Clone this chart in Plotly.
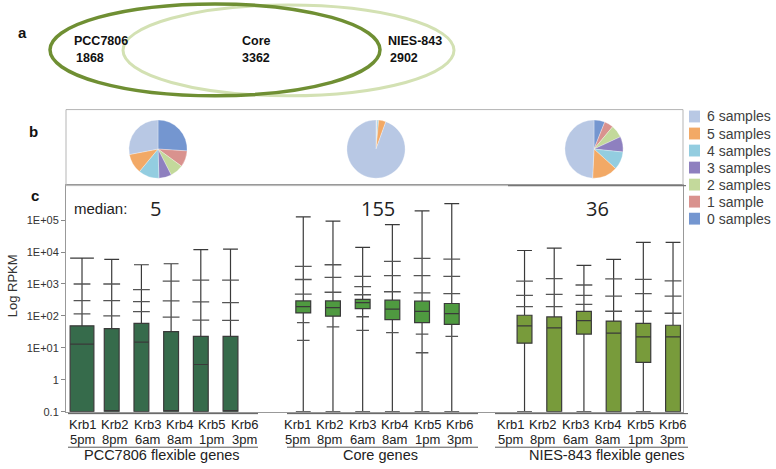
import plotly.graph_objects as go

W, H = 776, 469

# ---------------- data ----------------
venn_names = ["PCC7806", "Core", "NIES-843"]
venn_counts = [1868, 3362, 2902]

pie_labels = ["6 samples", "5 samples", "4 samples", "3 samples", "2 samples", "1 sample", "0 samples"]
pie_pcc = [28, 11, 11.5, 7, 7.5, 9, 26]
pie_core = [94.5, 4.0, 0.8, 0.2, 0.1, 0.1, 0.3]
pie_nies = [49, 14, 10, 8.5, 7, 5, 6]

samples = ["Krb1", "Krb2", "Krb3", "Krb4", "Krb5", "Krb6"]
times = ["5pm", "8pm", "6am", "8am", "1pm", "3pm"]
groups = ["PCC7806 flexible genes", "Core genes", "NIES-843 flexible genes"]
group_medians = [5, 155, 36]

pcc_upper = [6500, 5900, 4000, 4300, 12000, 12300]
pcc_q3 = [49, 40, 58, 32, 23, 23]
pcc_med = [13, 0.1, 15, 0.1, 3, 0.1]
pcc_q1 = [0.1, 0.1, 0.1, 0.1, 0.1, 0.1]
pcc_lower = [0.1, 0.1, 0.1, 0.1, 0.1, 0.1]
pcc_hi = [[1000, 300, 115], [1000, 300, 100], [670, 280, 137], [1230, 295, 92], [1320, 275, 74], [1320, 260, 72]]
pcc_lo = [[], [], [], [], [], []]

core_upper = [126000, 93000, 14000, 72000, 195000, 330000]
core_q3 = [295, 295, 330, 310, 290, 245]
core_med = [196, 183, 260, 163, 138, 118]
core_q1 = [124, 98, 170, 76, 62, 54]
core_lower = [0.1, 0.1, 0.1, 0.1, 0.1, 0.1]
core_hi = [[3550, 1380, 480], [4000, 1620, 550], [1740, 830, 460], [5100, 1830, 570], [6300, 1830, 525], [6000, 1740, 500]]
core_lo = [[62, 17], [45], [94, 35], [30], [27, 7], [23]]

nies_upper = [11200, 13200, 3800, 5900, 20000, 20000]
nies_q3 = [105, 93, 138, 69, 58, 51]
nies_med = [49, 42, 71, 29, 22, 22]
nies_q1 = [14, 0.1, 27, 0.1, 3.5, 0.1]
nies_lower = [0.1, 0.1, 0.1, 0.1, 0.1, 0.1]
nies_hi = [[1230, 440, 195], [1480, 470, 195], [930, 440, 230], [1450, 415, 140], [1400, 500, 140], [1260, 415, 121]]
nies_lo = [[], [], [], [], [], []]

ytick_vals = [0.1, 1, 10, 100, 1000, 10000, 100000]
ytick_text = ["0.1", "1", "1E+01", "1E+02", "1E+03", "1E+04", "1E+05"]

# ---------------- styles ----------------
pie_colors = ["#B8C8E4", "#F2A966", "#93CDE0", "#8E80BF", "#C3D99B", "#D9928E", "#7496D0"]
box_colors = ["#366B4B", "#4F9A40", "#789B3B"]
FONT = "Liberation Sans"


def PX(x):
    return x / W


def PY(y):
    return 1 - y / H


def note(x, y, text, size, family=FONT, color="#222", anchor="center", **kw):
    return dict(x=PX(x), y=PY(y), xref="paper", yref="paper", text=text, showarrow=False,
                xanchor=anchor, yanchor="middle", font=dict(family=family, size=size, color=color), **kw)


fig = go.Figure()

# ---------------- boxes (panel c) ----------------
GROUP_STEP = 7.45
group_sets = [
    (pcc_upper, pcc_q3, pcc_med, pcc_q1, pcc_lower, pcc_hi, pcc_lo),
    (core_upper, core_q3, core_med, core_q1, core_lower, core_hi, core_lo),
    (nies_upper, nies_q3, nies_med, nies_q1, nies_lower, nies_hi, nies_lo),
]
for g, (up, q3, med, q1, lo, hi, lom) in enumerate(group_sets):
    for i in range(6):
        xpos = g * GROUP_STEP + i
        bw = 0.8 if (g == 0 and i == 0) else 0.5
        fig.add_trace(go.Box(
            x=[xpos], q1=[q1[i]], median=[med[i]], q3=[q3[i]],
            lowerfence=[lo[i]], upperfence=[up[i]],
            width=bw, whiskerwidth=1, boxpoints=False,
            fillcolor=box_colors[g], line=dict(color="#3a3a3a", width=1.2),
            showlegend=False, hoverinfo="skip", name=f"{groups[g]} {samples[i]}"))
        fig.add_trace(go.Scatter(
            x=[xpos] * len(hi[i]), y=hi[i], mode="markers",
            marker=dict(symbol="line-ew", size=12, line=dict(width=1.3, color="#555")),
            showlegend=False, hoverinfo="skip"))
        if lom[i]:
            fig.add_trace(go.Scatter(
                x=[xpos] * len(lom[i]), y=lom[i], mode="markers",
                marker=dict(symbol="line-ew", size=9, line=dict(width=1.3, color="#555")),
                showlegend=False, hoverinfo="skip"))

# ---------------- pies (panel b) ----------------
PIE_D = 59
for cx, vals in zip([158, 376, 594], [pie_pcc, pie_core, pie_nies]):
    fig.add_trace(go.Pie(
        labels=pie_labels[::-1], values=vals[::-1], sort=False, direction="clockwise",
        rotation=0, textinfo="none", hoverinfo="label+percent",
        marker=dict(colors=pie_colors[::-1], line=dict(color="white", width=0.3)),
        domain=dict(x=[PX(cx - PIE_D / 2), PX(cx + PIE_D / 2)],
                    y=[PY(151 + PIE_D / 2), PY(151 - PIE_D / 2)]),
        showlegend=False))

shapes = []
annotations = []

# ---------------- venn (panel a) ----------------
shapes.append(dict(type="circle", xref="paper", yref="paper",
                   x0=PX(123), x1=PX(454), y0=PY(97), y1=PY(5),
                   line=dict(color="#D3E1B3", width=3)))
shapes.append(dict(type="circle", xref="paper", yref="paper",
                   x0=PX(50), x1=PX(380), y0=PY(97), y1=PY(4),
                   line=dict(color="#6F8F33", width=3.5)))
venn_pos = [(72, "left"), (256, "center"), (386, "left")]
for (vx, anc), name, cnt in zip(venn_pos, venn_names, venn_counts):
    annotations.append(note(vx, 42, f"<b>{name}</b>", 12.5, FONT, "#111", anc))
    annotations.append(note(vx + (2 if anc == "left" else 0), 59, f"<b>{cnt}</b>", 12.5, FONT, "#111", anc))

# panel letters
for letter, lx, ly in [("a", 22, 33), ("b", 33, 133), ("c", 35, 198)]:
    annotations.append(note(lx, ly, f"<b>{letter}</b>", 15, FONT, "#111"))

# panel b frame
shapes.append(dict(type="rect", xref="paper", yref="paper",
                   x0=PX(66), x1=PX(683), y0=PY(188), y1=PY(111),
                   line=dict(color="#B5B5B5", width=1)))
shapes.append(dict(type="line", xref="paper", yref="paper",
                   x0=PX(508), x1=PX(686), y0=PY(188), y1=PY(188),
                   line=dict(color="#777", width=1.2)))

# legend (manual)
for k, lab in enumerate(pie_labels):
    ly = 118 + k * 17.25
    shapes.append(dict(type="rect", xref="paper", yref="paper",
                       x0=PX(689), x1=PX(700), y0=PY(ly + 6), y1=PY(ly - 6),
                       fillcolor=pie_colors[k], line=dict(width=0)))
    annotations.append(note(705, ly, lab, 14, FONT, "#404040", "left"))

# medians
annotations.append(note(72, 211, "median:", 15, FONT, "#222", "left"))
for mx, mv in zip([155, 378, 597], group_medians):
    annotations.append(note(mx, 211, str(mv), 20, "Open Sans", "#222"))

# y title
annotations.append(note(12, 290, "Log RPKM", 13, FONT, "#333", textangle=-90))

# x category labels
lbl_start = [82, 297, 510]
LBL_PITCH = 32.5
name_centers = [162, 380, 607]
under = [(68, 258), (287, 478), (495, 688)]
for g in range(3):
    for i in range(6):
        lx = lbl_start[g] + i * LBL_PITCH
        annotations.append(note(lx, 430, samples[i], 13))
        annotations.append(note(lx, 445, times[i], 13))
    annotations.append(note(name_centers[g], 461, groups[g], 14.5))
    ux0, ux1 = under[g]
    for uy in (419, 453):
        shapes.append(dict(type="line", xref="paper", yref="paper",
                           x0=PX(ux0), x1=PX(ux1), y0=PY(uy), y1=PY(uy),
                           line=dict(color="#555", width=1)))

fig.update_layout(
    width=W, height=H, margin=dict(l=0, r=0, t=0, b=0),
    paper_bgcolor="white", plot_bgcolor="white",
    showlegend=False,
    shapes=shapes, annotations=annotations,
    xaxis=dict(domain=[PX(66), PX(683)], range=[-0.539, 20.236],
               showticklabels=False, ticks="", showgrid=False, zeroline=False,
               showline=True, linecolor="#999", linewidth=1, mirror=True),
    yaxis=dict(domain=[PY(417), PY(187)], type="log", range=[-1, 6.113],
               tickvals=ytick_vals, ticktext=ytick_text, ticks="outside", ticklen=4,
               tickcolor="#888", tickfont=dict(family=FONT, size=11, color="#333"),
               showgrid=False, zeroline=False,
               showline=True, linecolor="#999", linewidth=1, mirror=True),
)

fig.write_html("out.html", config={"displayModeBar": False},
               post_script="document.body.style.margin='0';")
